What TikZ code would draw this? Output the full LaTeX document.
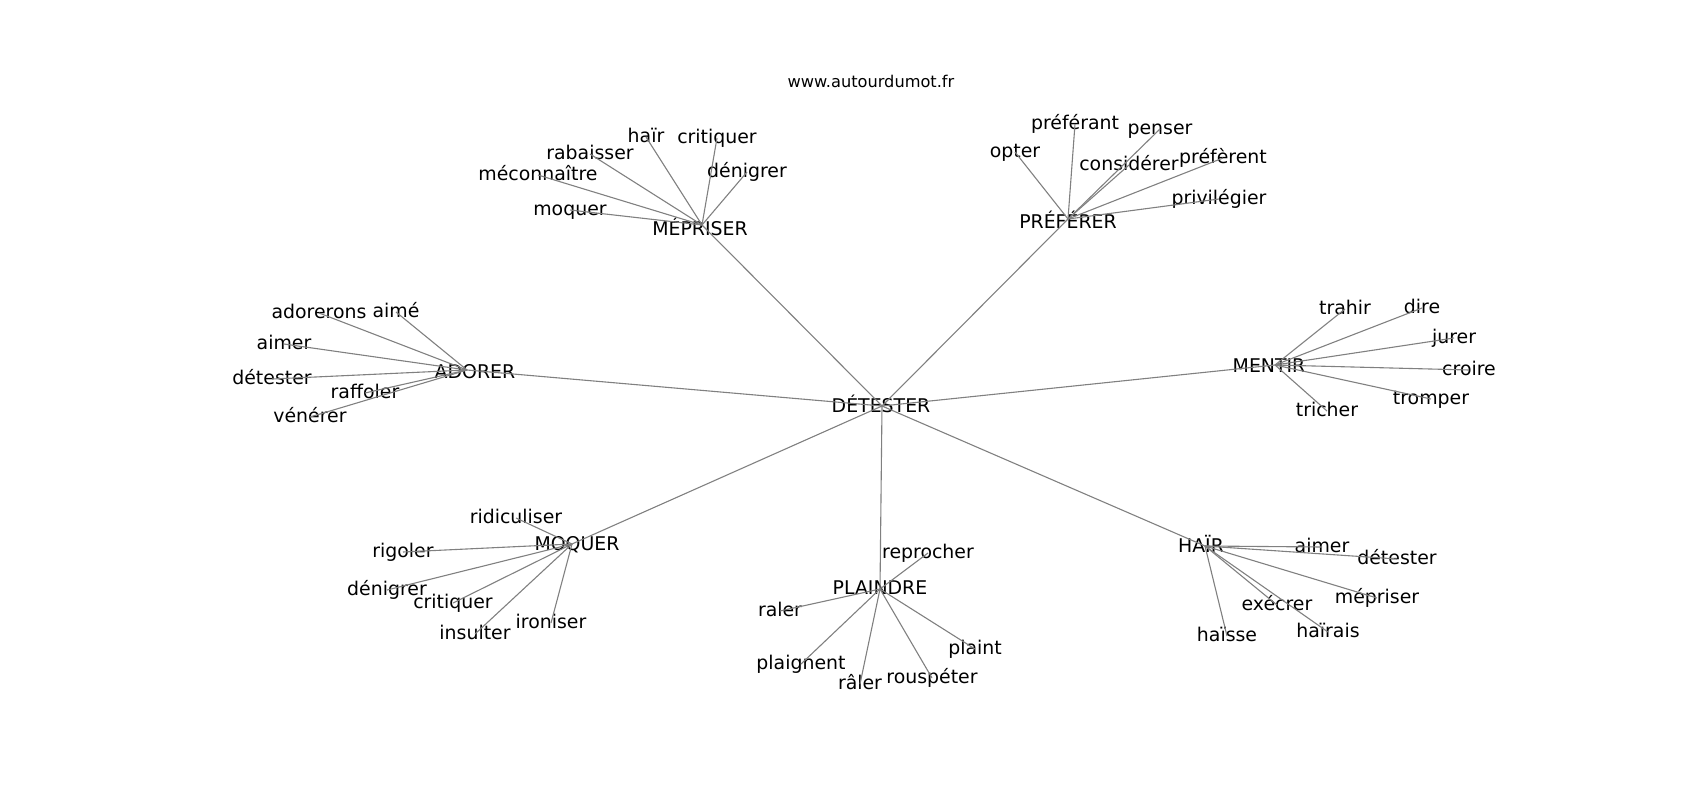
\documentclass[tikz,border=0pt]{standalone}
\usepackage{fontspec}
\setmainfont{DejaVu Sans}
\begin{document}
\begin{tikzpicture}[x=1pt,y=-1pt,
  lbl/.style={anchor=base,inner sep=0pt,font=\fontsize{18.9}{21}\selectfont},
  ttl/.style={anchor=base,inner sep=0pt,font=\fontsize{16.2}{18}\selectfont},
  edge/.style={draw=black!50,line width=1.1pt}]
\useasboundingbox (0,0) rectangle (1700,800);
\newcommand\leaf[4]{\coordinate (#1) at (#2,#3+2); \node[lbl] (#1t) at (#2,#3+7) {#4};}
\newcommand\hub[6]{\coordinate (#1) at (#2,#3); \node[lbl] (#1t) at (#4,#5+7) {#6};}
\node[ttl] (title) at (871,88) {www.autourdumot.fr};
% hubs
\hub{det}{882}{406}{881}{405}{DÉTESTER}
\hub{mep}{702}{225}{700}{228}{MÉPRISER}
\hub{pre}{1068}{219}{1068}{221}{PRÉFÉRER}
\hub{ado}{467}{370}{475}{371}{ADORER}
\hub{men}{1275}{365}{1269}{365}{MENTIR}
\hub{moq}{572}{544}{577}{543}{MOQUER}
\hub{pla}{880}{589}{880}{587}{PLAINDRE}
\hub{hai}{1205}{546}{1201}{545}{HAÏR}
% leaves
\leaf{m1}{646}{135}{haïr}
\leaf{m2}{717}{136}{critiquer}
\leaf{m3}{590}{152}{rabaisser}
\leaf{m4}{747}{170}{dénigrer}
\leaf{m5}{538}{173}{méconnaître}
\leaf{m6}{570}{208}{moquer}
\leaf{p1}{1075}{122}{préférant}
\leaf{p2}{1160}{127}{penser}
\leaf{p3}{1015}{150}{opter}
\leaf{p4}{1129}{163}{considérer}
\leaf{p5}{1223}{156}{préfèrent}
\leaf{p6}{1219}{197}{privilégier}
\leaf{a1}{319}{311}{adorerons}
\leaf{a2}{396}{310}{aimé}
\leaf{a3}{284}{342}{aimer}
\leaf{a4}{272}{377}{détester}
\leaf{a5}{365}{391}{raffoler}
\leaf{a6}{310}{415}{vénérer}
\leaf{n1}{1345}{307}{trahir}
\leaf{n2}{1422}{306}{dire}
\leaf{n3}{1454}{336}{jurer}
\leaf{n4}{1469}{368}{croire}
\leaf{n5}{1431}{397}{tromper}
\leaf{n6}{1327}{409}{tricher}
\leaf{q1}{516}{516}{ridiculiser}
\leaf{q2}{403}{550}{rigoler}
\leaf{q3}{387}{588}{dénigrer}
\leaf{q4}{453}{601}{critiquer}
\leaf{q5}{475}{632}{insulter}
\leaf{q6}{551}{621}{ironiser}
\leaf{l1}{928}{551}{reprocher}
\leaf{l2}{780}{609}{raler}
\leaf{l3}{801}{662}{plaignent}
\leaf{l4}{975}{647}{plaint}
\leaf{l5}{932}{676}{rouspéter}
\leaf{l6}{860}{682}{râler}
\leaf{h1}{1322}{545}{aimer}
\leaf{h2}{1397}{557}{détester}
\leaf{h3}{1377}{596}{mépriser}
\leaf{h4}{1277}{603}{exécrer}
\leaf{h5}{1328}{630}{haïrais}
\leaf{h6}{1227}{634}{haïsse}
\begin{scope}[on background layer/.try]
\foreach \h in {mep,pre,ado,men,moq,pla,hai} {\draw[edge] (det) -- (\h);}
\foreach \i in {1,...,6} {
  \draw[edge] (mep) -- (m\i);
  \draw[edge] (pre) -- (p\i);
  \draw[edge] (ado) -- (a\i);
  \draw[edge] (men) -- (n\i);
  \draw[edge] (moq) -- (q\i);
  \draw[edge] (pla) -- (l\i);
  \draw[edge] (hai) -- (h\i);
}
\end{scope}
\end{tikzpicture}
\end{document}
